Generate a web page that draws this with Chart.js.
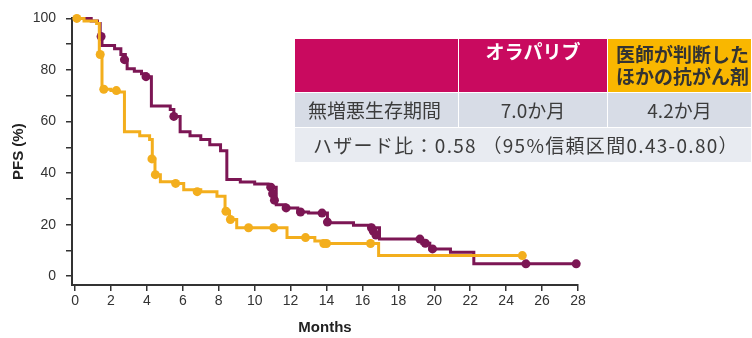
<!DOCTYPE html>
<html lang="ja">
<head>
  <meta charset="UTF-8">
  <title>PFS</title>
  <script src="https://cdn.jsdelivr.net/npm/chart.js"></script>
  <style>
    body { margin: 0; background: #fff; }
    .wrap { position: relative; width: 752px; height: 338px; overflow: hidden; }
    #tabla { position: absolute; left: 294px; top: 38px; width: 457px; table-layout: fixed; border-collapse: collapse;
      font-family: "Noto Sans CJK JP", sans-serif; font-size: 19px; color: #3c3c3c; }
    #tabla td { border: 1px solid #fff; padding: 0; white-space: nowrap; overflow: hidden; }
    .h1 { background: #c90a5f; height: 53px; }
    .h2 { background: #c90a5f; color: #fff; font-weight: bold; text-align: center; vertical-align: top; padding-top: 1px !important; line-height: 22px; }
    .h3 { background: #f9b700; color: #333; font-weight: bold; vertical-align: top; line-height: 22px; padding: 4px 0 0 8px !important; }
    .r2 { background: #d7dce6; height: 34px; line-height: 20px; }
    .r3 { background: #e8ebf1; height: 34px; line-height: 20px; padding-left: 18px !important; letter-spacing: 1.3px; }
  </style>
</head>
<body>
  <div class="wrap">
    <canvas id="grafico" width="752" height="338"></canvas>
    <table id="tabla">
      <colgroup><col style="width:164px"><col style="width:149px"><col style="width:144px"></colgroup>
      <tr><td class="h1"></td><td class="h2">オラパリブ</td><td class="h3">医師が判断した<br>ほかの抗がん剤</td></tr>
      <tr><td class="r2" style="padding-left:13px">無増悪生存期間</td><td class="r2" style="text-align:center">7.0か月</td><td class="r2" style="text-align:center">4.2か月</td></tr>
      <tr><td class="r3" colspan="3">ハザード比：0.58 （95%信頼区間0.43-0.80）</td></tr>
    </table>
  </div>

  <script>
    // Olaparib (KM steps: month, PFS % after event)
    const olaMonths = [0, 0.9, 1.25, 1.4, 1.5, 2.2, 2.55, 2.8, 2.9, 3.3, 3.7, 3.95, 4.25, 5.3, 5.5, 5.85, 6.4, 7.0, 7.5, 8.1, 8.45, 9.2, 10.0, 10.75, 11.2, 11.7, 12.4, 13.0, 14.05, 15.5, 16.45, 16.95, 19.3, 19.75, 20.9, 22.2, 27.9];
    const olaPFS    = [100, 99, 98, 93, 89.5, 88.2, 86, 84, 80.5, 79.5, 78.5, 77.4, 66, 64.7, 62, 56, 54.5, 53, 51, 48.7, 37.5, 36.5, 35.8, 34.5, 27.7, 26.5, 24.9, 24.5, 20.7, 19.8, 18.8, 14.4, 12.8, 10.6, 9.3, 4.8, 4.8];
    const olaCensorMonths = [1.45, 2.75, 3.95, 5.5, 10.9, 11.0, 11.1, 11.75, 12.55, 13.75, 14.05, 16.5, 16.6, 16.75, 19.2, 19.5, 19.9, 25.1, 27.9];
    const olaCensorPFS    = [93, 84, 77.4, 62, 34.5, 32, 29.5, 26.5, 24.9, 24.5, 21, 18.8, 17.5, 16, 14.4, 12.8, 10.6, 4.8, 4.8];

    // 医師が判断したほかの抗がん剤
    const chemoMonths = [0, 0.5, 1.2, 1.35, 1.5, 2.0, 2.4, 2.75, 3.6, 4.15, 4.3, 4.45, 4.75, 5.6, 6.05, 7.0, 7.9, 8.35, 8.6, 9.0, 11.8, 13.35, 13.8, 16.9, 24.9];
    const chemoPFS    = [100, 99, 98, 86, 72.5, 72, 71.5, 56, 54.5, 53, 45.5, 39.4, 36.6, 36, 33.5, 32.8, 31, 25.2, 22, 18.8, 15, 13.7, 12.7, 8, 8];
    const chemoCensorMonths = [0.1, 1.4, 1.6, 2.3, 4.28, 4.47, 5.6, 6.8, 8.4, 8.65, 9.66, 11.06, 12.83, 13.85, 14.0, 16.45, 24.9];
    const chemoCensorPFS    = [100, 86, 72.5, 72, 45.5, 39.4, 36, 32.8, 25.2, 22, 18.8, 18.8, 15, 12.7, 12.7, 12.7, 8];

    const xTicks = [0, 2, 4, 6, 8, 10, 12, 14, 16, 18, 20, 22, 24, 26, 28];
    const yTicks = [0, 10, 20, 30, 40, 50, 60, 70, 80, 90, 100];

    const morado = "#7c1654";
    const amarillo = "#f3ae1d";
    const fuente = "'Liberation Sans', Arial, sans-serif";

    const puntos = (xs, ys) => xs.map((x, i) => ({ x: x, y: ys[i] }));

    new Chart(document.getElementById("grafico").getContext("2d"), {
      type: "line",
      data: {
        datasets: [
          { data: puntos(chemoCensorMonths, chemoCensorPFS), showLine: false, pointRadius: 4.5, pointBackgroundColor: amarillo, pointBorderWidth: 0, clip: 8 },
          { data: puntos(chemoMonths, chemoPFS), stepped: true, borderColor: amarillo, borderWidth: 3, pointRadius: 0, clip: 8 },
          { data: puntos(olaCensorMonths, olaCensorPFS), showLine: false, pointRadius: 4.5, pointBackgroundColor: morado, pointBorderWidth: 0, clip: 8 },
          { data: puntos(olaMonths, olaPFS), stepped: true, borderColor: morado, borderWidth: 3, pointRadius: 0, clip: 8 }
        ]
      },
      options: {
        responsive: false,
        animation: false,
        layout: { padding: { left: 0, top: 14, right: 174, bottom: 0 } },
        plugins: { legend: { display: false }, tooltip: { enabled: false } },
        scales: {
          x: {
            type: "linear", min: -0.17, max: 28,
            afterBuildTicks: s => { s.ticks = xTicks.map(v => ({ value: v })); },
            afterFit: s => { s.height = 53; },
            grid: { drawOnChartArea: false, drawTicks: true, tickLength: 6, color: "#333", lineWidth: 1.5 },
            border: { display: true, color: "#333", width: 2 },
            ticks: { color: "#333", font: { family: fuente, size: 14 }, padding: 2, maxRotation: 0, autoSkip: false },
            title: { display: true, text: "Months", color: "#222", font: { family: fuente, size: 15, weight: "bold" }, padding: { top: 0, bottom: 1 } }
          },
          y: {
            type: "linear", min: -3.4, max: 100,
            afterBuildTicks: s => { s.ticks = yTicks.map(v => ({ value: v })); },
            afterFit: s => { s.width = 72; },
            grid: { drawOnChartArea: false, drawTicks: true, tickLength: 6, color: "#333", lineWidth: 1.5 },
            border: { display: true, color: "#333", width: 2 },
            ticks: { color: "#333", font: { family: fuente, size: 14 }, padding: 10, autoSkip: false,
              callback: v => (v % 20 === 0 ? v : "") },
            title: { display: true, text: "PFS (%)", color: "#222", font: { family: fuente, size: 15, weight: "bold" }, padding: { top: 10, bottom: 0 } }
          }
        }
      }
    });
  </script>
</body>
</html>
